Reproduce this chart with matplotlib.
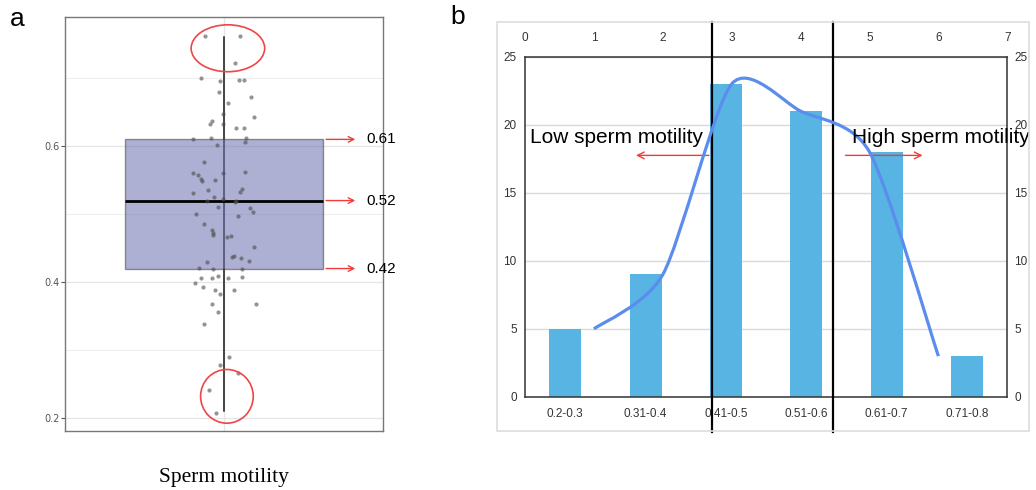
import numpy as np
import matplotlib
matplotlib.use("Agg")
import matplotlib.pyplot as plt
from matplotlib.patches import Ellipse, Rectangle, PathPatch
from matplotlib.path import Path
from matplotlib.transforms import blended_transform_factory

NARROW = ['Liberation Sans Narrow', 'Liberation Sans', 'DejaVu Sans']

# panel a: individual motility values and their horizontal jitter
motility = [0.762, 0.762, 0.723, 0.701, 0.696, 0.697, 0.698, 0.680, 0.672, 0.663,
            0.648, 0.643, 0.637, 0.632, 0.632, 0.627, 0.626, 0.611, 0.612, 0.612,
            0.606, 0.602, 0.576, 0.560, 0.558, 0.551, 0.549, 0.560, 0.562, 0.550,
            0.536, 0.537, 0.532, 0.531, 0.525, 0.520, 0.522, 0.520, 0.518, 0.511,
            0.509, 0.500, 0.503, 0.497, 0.486, 0.477, 0.473, 0.469, 0.467, 0.468,
            0.452, 0.437, 0.438, 0.435, 0.431, 0.430, 0.421, 0.420, 0.419, 0.406,
            0.406, 0.409, 0.406, 0.407, 0.398, 0.393, 0.389, 0.389, 0.382, 0.368,
            0.368, 0.356, 0.339, 0.290, 0.278, 0.266, 0.242, 0.208]
jitter = [-0.19, 0.16, 0.11, -0.23, -0.04, 0.15, 0.20, -0.05, 0.27, 0.04,
          -0.01, 0.30, -0.12, -0.14, -0.01, 0.12, 0.20, -0.31, -0.13, 0.22,
          0.21, -0.07, -0.20, -0.31, -0.26, -0.23, -0.22, -0.01, 0.21, -0.09,
          -0.16, 0.18, 0.16, -0.31, -0.10, -0.17, -0.01, 0.12, 0.11, -0.06,
          0.26, -0.28, 0.29, 0.14, -0.20, -0.12, -0.11, -0.11, 0.03, 0.07,
          0.30, 0.08, 0.10, 0.17, 0.25, -0.17, -0.25, -0.11, 0.18, -0.23,
          -0.12, -0.06, 0.04, 0.18, -0.29, -0.21, -0.09, 0.10, -0.04, -0.12,
          0.32, -0.06, -0.20, 0.05, -0.04, 0.14, -0.15, -0.08]
box_q1, box_med, box_q3 = 0.42, 0.52, 0.61
whisk_lo, whisk_hi = 0.21, 0.76

# panel b: counts per motility range
ranges = ['0.2-0.3', '0.31-0.4', '0.41-0.5', '0.51-0.6', '0.61-0.7', '0.71-0.8']
counts = [5, 9, 23, 21, 18, 3]
low_cut, high_cut = 2.71, 4.47   # threshold lines on the top/right scale

fig = plt.figure(figsize=(10.36, 4.90), dpi=100)

# ---------------- panel a ----------------
ax = fig.add_axes([0.0627, 0.1204, 0.3069, 0.8449])

stats = [dict(med=box_med, q1=box_q1, q3=box_q3, whislo=whisk_lo, whishi=whisk_hi, fliers=[])]
ax.vlines(0, whisk_lo, whisk_hi, color='#444444', lw=1.2, zorder=2)
ax.bxp(stats, positions=[0], widths=2.0, showcaps=False, patch_artist=True,
       boxprops=dict(facecolor='#5c63a8', alpha=0.5, edgecolor='#333333', lw=1),
       medianprops=dict(color='black', lw=2),
       whiskerprops=dict(color='#444444', lw=1.2), zorder=3)
ax.scatter(jitter, motility, s=9, color='#4d4d4d', alpha=0.6, lw=0, zorder=4)

ax.set_xlim(-1.6, 1.6)
ax.set_ylim(0.181, 0.79)
ax.set_xticks([0], labels=[''])
ax.set_yticks([0.2, 0.4, 0.6])
ax.set_yticks([0.3, 0.5, 0.7], minor=True)
ax.tick_params(axis='x', length=0)
ax.tick_params(axis='y', which='major', length=3, color='#555555',
               labelsize=7, labelcolor='#555555', pad=1)
ax.tick_params(axis='y', which='minor', length=0)
ax.grid(True, which='major', color='#e6e6e6', lw=1)
ax.grid(True, which='minor', axis='y', color='#eeeeee', lw=0.8)
ax.set_axisbelow(True)
for s in ax.spines.values():
    s.set_color('#777777')
    s.set_linewidth(1)

for v in (box_q3, box_med, box_q1):
    ax.annotate('', xy=(1.35, v), xytext=(1.0, v),
                arrowprops=dict(arrowstyle='->', color='#f03c3c', lw=1,
                                mutation_scale=10), annotation_clip=False)
    ax.text(1.43, v, '%.2f' % v, ha='left', va='center', fontsize=11,
            family=NARROW, clip_on=False)

ax.add_patch(Ellipse((0.04, 0.744), 0.74, 0.069, fill=False, ec='#f04545', lw=1.2, zorder=5))
ax.add_patch(Ellipse((0.03, 0.232), 0.53, 0.079, fill=False, ec='#f04545', lw=1.2, zorder=5))

fig.text(17 / 1036, 1 - 19 / 490, 'a', fontsize=19, family='Liberation Sans',
         ha='center', va='center')
fig.text(224 / 1036, 1 - 482 / 490, 'Sperm motility', fontsize=15.5,
         family='Liberation Serif', ha='center', va='baseline')

# ---------------- panel b ----------------
fig.add_artist(Rectangle((497 / 1036, 1 - 431 / 490), (1029 - 497) / 1036, (431 - 22) / 490,
                         transform=fig.transFigure, fill=False, ec='#dddddd', lw=1.2))

rect = [0.5068, 0.1898, 0.4655, 0.6945]
axb = fig.add_axes(rect)
x = np.arange(len(ranges)) + 0.5
axb.bar(x, counts, width=0.4, color='#58b4e2', zorder=2)
axb.set_xlim(0, 6)
axb.set_ylim(0, 25)
axb.set_xticks(x)
axb.set_xticklabels(ranges, family=NARROW, fontsize=8.5, color='#333333')
axb.set_yticks(range(0, 26, 5))
axb.set_yticklabels([str(t) for t in range(0, 26, 5)], family=NARROW, fontsize=8.5, color='#333333')
axb.tick_params(length=0)
axb.tick_params(axis='x', pad=8)
axb.tick_params(axis='y', pad=6)
axb.grid(True, axis='y', color='#d9d9d9', lw=1)
axb.set_axisbelow(True)
for s in axb.spines.values():
    s.set_color('#333333')
    s.set_linewidth(1.1)

axt = fig.add_axes(rect)
axt.patch.set_visible(False)
axt.set_xlim(0, 7)
axt.set_ylim(0, 25)
axt.xaxis.tick_top()
axt.yaxis.tick_right()
axt.set_xticks(range(8))
axt.set_xticklabels([str(t) for t in range(8)], family=NARROW, fontsize=8.5, color='#333333')
axt.set_yticks(range(0, 26, 5))
axt.set_yticklabels([str(t) for t in range(0, 26, 5)], family=NARROW, fontsize=8.5, color='#333333')
axt.tick_params(length=0)
axt.tick_params(axis='x', pad=9)
axt.tick_params(axis='y', pad=5)
for s in axt.spines.values():
    s.set_visible(False)

# threshold lines run over the whole panel frame
tr = blended_transform_factory(axt.transData, fig.transFigure)
for c in (low_cut, high_cut):
    axt.plot([c, c], [1 - 431.7 / 490, 1 - 21.7 / 490], color='black', lw=1.6,
             transform=tr, clip_on=False, zorder=3)

# smoothed line through the counts (cardinal spline as cubic Bezier)
k = 1 / 8
pts = np.column_stack([np.arange(1, len(counts) + 1), counts]).astype(float)
ext = np.vstack([pts[0], pts, pts[-1]])
verts = [tuple(pts[0])]
codes = [Path.MOVETO]
for i in range(len(pts) - 1):
    p0, p1, p2, p3 = ext[i], ext[i + 1], ext[i + 2], ext[i + 3]
    verts += [tuple(p1 + (p2 - p0) * k), tuple(p2 - (p3 - p1) * k), tuple(p2)]
    codes += [Path.CURVE4] * 3
axt.add_patch(PathPatch(Path(verts, codes), fill=False, ec='#5b8def', lw=2.3,
                        capstyle='butt', zorder=4))

axt.text(0.07, 18.68, 'Low sperm motility', family=NARROW, fontsize=15,
         va='baseline', ha='left', zorder=5)
axt.text(4.74, 18.68, 'High sperm motility', family=NARROW, fontsize=15,
         va='baseline', ha='left', zorder=5, clip_on=False)
axt.annotate('', xy=(1.57, 17.75), xytext=(low_cut, 17.75),
             arrowprops=dict(arrowstyle='->', color='#f03c3c', lw=1, mutation_scale=12))
axt.annotate('', xy=(5.81, 17.75), xytext=(4.61, 17.75),
             arrowprops=dict(arrowstyle='->', color='#f03c3c', lw=1, mutation_scale=12))

fig.text(458 / 1036, 1 - 17 / 490, 'b', fontsize=19, family='Liberation Sans',
         ha='center', va='center')

fig.savefig('out.png', dpi=100)
